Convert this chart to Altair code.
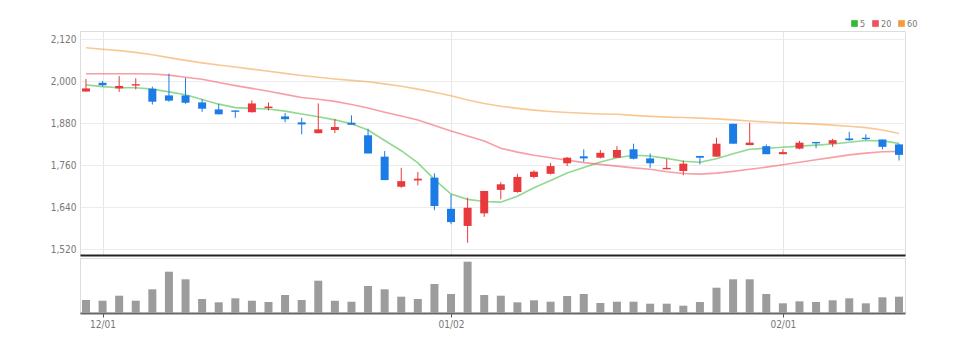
import altair as alt
import pandas as pd

dates = ['11/30', '12/01', '12/02', '12/05', '12/06', '12/07', '12/08', '12/09', '12/12', '12/13',
         '12/14', '12/15', '12/16', '12/19', '12/20', '12/21', '12/22', '12/23', '12/26', '12/27',
         '12/28', '12/29', '01/02', '01/03', '01/04', '01/05', '01/06', '01/09', '01/10', '01/11',
         '01/12', '01/13', '01/16', '01/17', '01/18', '01/19', '01/20', '01/25', '01/26', '01/27',
         '01/30', '01/31', '02/01', '02/02', '02/03', '02/06', '02/07', '02/08', '02/09', '02/10']

opens = [1970, 1995, 1979, 1987, 1978, 1959, 1959, 1939, 1919, 1916,
         1911, 1923, 1899, 1882, 1851, 1860, 1881, 1845, 1784, 1698,
         1716, 1724, 1635, 1586, 1622, 1689, 1683, 1726, 1735, 1765,
         1785, 1781, 1781, 1805, 1779, 1748, 1743, 1786, 1784, 1878,
         1817, 1814, 1791, 1807, 1826, 1821, 1836, 1838, 1833, 1819]
highs = [2006, 2000, 2014, 2008, 1984, 2021, 2009, 1948, 1935, 1916,
         1945, 1939, 1909, 1895, 1936, 1892, 1902, 1864, 1800, 1752,
         1740, 1736, 1676, 1667, 1686, 1711, 1735, 1745, 1766, 1783,
         1805, 1803, 1814, 1821, 1793, 1778, 1773, 1786, 1838, 1878,
         1881, 1819, 1805, 1829, 1826, 1835, 1855, 1848, 1833, 1821]
lows = [1970, 1985, 1969, 1976, 1933, 1941, 1935, 1912, 1905, 1895,
        1910, 1916, 1882, 1848, 1851, 1851, 1875, 1793, 1717, 1695,
        1702, 1631, 1591, 1538, 1612, 1662, 1681, 1722, 1733, 1757,
        1769, 1779, 1781, 1776, 1752, 1748, 1731, 1762, 1784, 1821,
        1817, 1791, 1791, 1805, 1808, 1812, 1829, 1831, 1805, 1773]
closes = [1979, 1988, 1986, 1991, 1941, 1944, 1938, 1921, 1905, 1912,
          1936, 1927, 1891, 1876, 1862, 1869, 1875, 1793, 1717, 1714,
          1721, 1643, 1597, 1638, 1686, 1705, 1726, 1741, 1757, 1781,
          1779, 1795, 1803, 1778, 1765, 1752, 1764, 1781, 1821, 1821,
          1824, 1791, 1797, 1824, 1822, 1831, 1831, 1834, 1812, 1789]
volumes = [130, 123, 173, 123, 237, 413, 337, 140, 107, 147,
           123, 110, 180, 130, 323, 123, 113, 270, 237, 163,
           140, 290, 190, 513, 180, 173, 107, 127, 113, 170,
           190, 100, 113, 113, 93, 93, 73, 110, 253, 337,
           337, 190, 97, 117, 110, 127, 147, 97, 157, 163]

ma5 = [1989, 1984, 1981, 1981, 1977, 1969, 1961, 1947, 1934, 1924,
       1922, 1920, 1914, 1906, 1898, 1889, 1878, 1860, 1830, 1801,
       1766, 1719, 1677, 1662, 1656, 1654, 1671, 1695, 1716, 1737,
       1753, 1769, 1781, 1788, 1786, 1779, 1771, 1768, 1778, 1792,
       1805, 1808, 1811, 1814, 1817, 1820, 1825, 1830, 1829, 1822]
ma20 = [2021, 2021, 2021, 2021, 2020, 2017, 2011, 2005, 1996, 1987,
        1979, 1971, 1962, 1953, 1948, 1942, 1933, 1923, 1911, 1900,
        1889, 1873, 1857, 1843, 1829, 1808, 1797, 1788, 1781, 1774,
        1767, 1762, 1757, 1752, 1748, 1741, 1736, 1734, 1737, 1742,
        1748, 1754, 1761, 1768, 1775, 1782, 1789, 1794, 1798, 1799]
ma60 = [2095, 2091, 2087, 2082, 2075, 2067, 2059, 2052, 2046, 2040,
        2034, 2028, 2022, 2016, 2011, 2006, 2002, 1998, 1992, 1985,
        1977, 1968, 1958, 1946, 1936, 1928, 1922, 1917, 1913, 1910,
        1908, 1906, 1905, 1902, 1899, 1897, 1896, 1894, 1892, 1889,
        1886, 1883, 1881, 1879, 1877, 1874, 1871, 1867, 1860, 1850]

y_ticks = [1520, 1640, 1760, 1880, 2000, 2120]
x_ticks = ['12/01', '01/02', '02/01']
ma_names = ['5', '20', '60']
ma_colors = ['#35b935', '#f0505a', '#f39a3c']

RED = '#e8393c'
BLUE = '#1c7ce6'
FONT = 'Liberation Sans Narrow, DejaVu Sans Condensed, sans-serif'

df = pd.DataFrame({'i': list(range(len(dates))), 'date': dates, 'open': opens, 'high': highs,
                   'low': lows, 'close': closes, 'volume': volumes})

ma_rows = []
for name, arr in zip(ma_names, [ma5, ma20, ma60]):
    for i, (d, v) in enumerate(zip(dates, arr)):
        ma_rows.append({'i': i, 'date': d, 'value': v, 'series': name})
ma_df = pd.DataFrame(ma_rows)

xscale = alt.Scale(type='point', padding=0.36)
yscale = alt.Scale(domain=[1503, 2143], nice=False, zero=False)

x_price = alt.X('date:O', sort=None, scale=xscale, title=None,
                axis=alt.Axis(values=x_ticks, labels=False, ticks=False, grid=True,
                              gridColor='#e6e6e6', domain=True, domainColor='#222222',
                              domainWidth=2))

candle_color = alt.condition('datum.close >= datum.open', alt.value(RED), alt.value(BLUE))

lines = alt.Chart(ma_df).mark_line(strokeWidth=1.6, opacity=0.55).encode(
    x=x_price,
    y=alt.Y('value:Q', scale=yscale, title=None,
            axis=alt.Axis(values=y_ticks, format=',d', ticks=False, domain=False, grid=True,
                          gridColor='#ececec', labelPadding=4, labelFontSize=10,
                          labelColor='#777777', labelFont=FONT)),
    color=alt.Color('series:N', scale=alt.Scale(domain=ma_names, range=ma_colors),
                    legend=alt.Legend(orient='none', legendX=770, legendY=-12,
                                      direction='horizontal', title=None,
                                      symbolType='square', symbolSize=10,
                                      symbolOpacity=1, symbolStrokeWidth=3.5,
                                      labelFontSize=9, labelColor='#777777',
                                      labelFont=FONT, labelOffset=1, columnPadding=0,
                                      gridAlign='none', symbolOffset=0, padding=0)),
    order=alt.Order('i:Q'),
)

wicks = alt.Chart(df).mark_rule(strokeWidth=1).encode(
    x=x_price,
    y=alt.Y('low:Q', scale=yscale, title=None),
    y2='high:Q',
    color=candle_color,
)

bodies = alt.Chart(df).mark_bar(size=8).encode(
    x=x_price,
    y=alt.Y('open:Q', scale=yscale, title=None),
    y2='close:Q',
    color=candle_color,
)

price = alt.layer(lines, wicks, bodies).properties(width=825, height=224)

volume = alt.Chart(df).mark_bar(size=8, color='#9c9c9c').encode(
    x=alt.X('date:O', sort=None, scale=xscale, title=None,
            axis=alt.Axis(values=x_ticks, labelAngle=0, ticks=True, tickSize=4,
                          tickColor='#555555', grid=False, domainColor='#666666',
                          domainWidth=2, labelFontSize=10, labelColor='#777777',
                          labelFont=FONT, labelPadding=2)),
    y=alt.Y('volume:Q', scale=alt.Scale(domain=[0, 550], nice=False), axis=None),
).properties(width=825, height=55)

chart = alt.vconcat(price, volume, spacing=1).properties(
    padding={'left': 49, 'top': 19, 'right': 5, 'bottom': 5}
).configure_view(stroke=None).configure(background='white')

chart.save('out.html', embed_options={'renderer': 'svg', 'actions': False})
